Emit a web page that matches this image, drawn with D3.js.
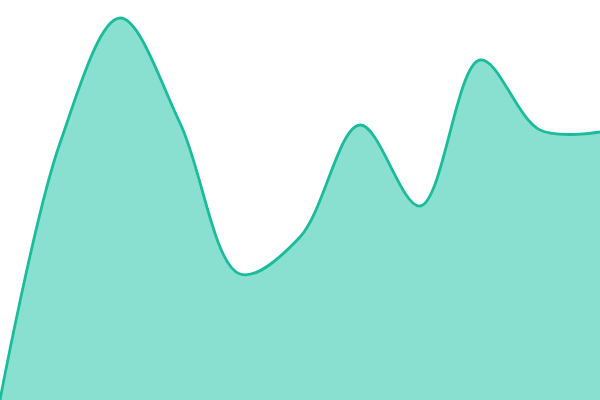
<!DOCTYPE html>
<html><head><meta charset="utf-8">
<script src="https://cdn.jsdelivr.net/npm/d3@7"></script>
<style>html,body{margin:0;padding:0;background:#fff;overflow:hidden}</style>
</head><body>
<svg id="c" width="600" height="400"></svg>
<script>
const categories = [0,1,2,3,4,5,6,7,8,9,10];
const values = [0, 64.25, 95.5, 69.25, 31.5, 40.75, 68.75, 48.5, 85, 67.5, 67];

const W = 600, H = 400;
const svg = d3.select("#c");
const x = d3.scaleLinear().domain([0, categories.length - 1]).range([0, W]);
const y = d3.scaleLinear().domain([0, 100]).range([H, 0]);
const data = categories.map((c, i) => ({c, v: values[i]}));

const area = d3.area().x(d => x(d.c)).y0(H).y1(d => y(d.v)).curve(d3.curveCatmullRom);
const line = d3.line().x(d => x(d.c)).y(d => y(d.v)).curve(d3.curveCatmullRom);

svg.append("path").datum(data).attr("d", area).attr("fill", "#8ae0d0");
svg.append("path").datum(data).attr("d", line).attr("fill", "none")
  .attr("stroke", "#1abc9c").attr("stroke-width", 2.8);
</script>
</body></html>
